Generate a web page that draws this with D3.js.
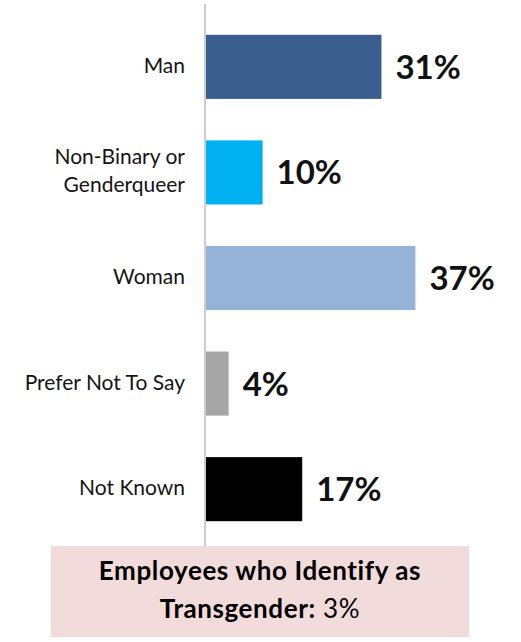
<!DOCTYPE html>
<html>
<head>
<meta charset="utf-8">
<script src="https://cdn.jsdelivr.net/npm/d3@7"></script>
<style>
  html, body { margin: 0; padding: 0; background: #ffffff; }
  svg { display: block; }
</style>
</head>
<body>
<svg id="chart" width="521" height="642"></svg>
<script>
// Gender breakdown of employees (percent)
const categories = ["Man", "Non-Binary or\nGenderqueer", "Woman", "Prefer Not To Say", "Not Known"];
const values = [31, 10, 37, 4, 17];
const barColors = ["#3a5e8e", "#00b0f0", "#95b3d7", "#a6a6a6", "#000000"];
const noteLabel = "Employees who Identify as";
const noteLabel2 = "Transgender:";
const noteValue = "3%";

const svg = d3.select("#chart");
const font = "Lato, 'Open Sans', sans-serif";

const axisX = 205;
const y = d3.scaleBand()
  .domain(categories)
  .range([14, 542])
  .paddingInner(0.393)
  .paddingOuter(0.197);

const x = d3.scaleLinear()
  .domain([0, 40])
  .range([axisX + 1, axisX + 1 + 40 * 5.66]);

// bars
svg.append("g").selectAll("rect")
  .data(categories)
  .join("rect")
  .attr("x", x(0))
  .attr("y", d => y(d))
  .attr("width", (d, i) => x(values[i]) - x(0))
  .attr("height", y.bandwidth())
  .attr("fill", (d, i) => barColors[i]);

// value labels
svg.append("g").selectAll("text")
  .data(categories)
  .join("text")
  .attr("x", (d, i) => x(values[i]) + 14)
  .attr("y", d => y(d) + y.bandwidth() / 2 + 12)
  .attr("font-family", font)
  .attr("font-weight", 700)
  .attr("font-size", 33)
  .attr("fill", "#111111")
  .text((d, i) => values[i] + "%");

// category labels (right aligned, may wrap on \n)
const lineH = 28;
const cat = svg.append("g").selectAll("text")
  .data(categories)
  .join("text")
  .attr("text-anchor", "end")
  .attr("font-family", font)
  .attr("font-size", 21)
  .attr("fill", "#141414");
cat.each(function(d) {
  const lines = d.split("\n");
  const cy = y(d) + y.bandwidth() / 2;
  const first = cy - (lines.length - 1) * lineH / 2 + 6;
  d3.select(this).selectAll("tspan")
    .data(lines)
    .join("tspan")
    .attr("x", 185)
    .attr("y", (l, j) => first + j * lineH)
    .text(l => l);
});

// vertical category axis line
svg.append("line")
  .attr("x1", axisX).attr("x2", axisX)
  .attr("y1", 4).attr("y2", 546)
  .attr("stroke", "#bdbdbd")
  .attr("stroke-width", 1.5);

// note box at bottom
const box = { x: 51, y: 546, w: 418, h: 91 };
svg.append("rect")
  .attr("x", box.x).attr("y", box.y)
  .attr("width", box.w).attr("height", box.h)
  .attr("fill", "#f2dcdb");

const cx = box.x + box.w / 2;
svg.append("text")
  .attr("x", cx).attr("y", 580)
  .attr("text-anchor", "middle")
  .attr("font-family", font)
  .attr("font-weight", 700)
  .attr("font-size", 26)
  .attr("letter-spacing", 0.6)
  .attr("fill", "#000000")
  .text(noteLabel);

const t2 = svg.append("text")
  .attr("x", cx).attr("y", 618)
  .attr("text-anchor", "middle")
  .attr("font-family", font)
  .attr("font-size", 26)
  .attr("letter-spacing", 0.6)
  .attr("fill", "#000000");
t2.append("tspan").attr("font-weight", 700).text(noteLabel2);
t2.append("tspan").attr("font-weight", 400).text(" " + noteValue);
</script>
</body>
</html>
